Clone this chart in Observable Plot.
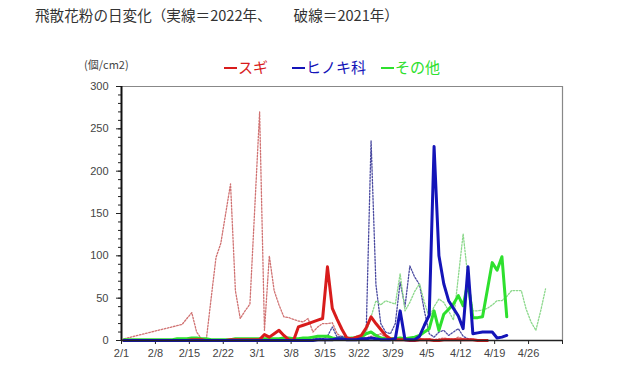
<!DOCTYPE html>
<html><head><meta charset="utf-8">
<script src="https://cdn.jsdelivr.net/npm/d3@7"></script>
<script src="https://cdn.jsdelivr.net/npm/@observablehq/plot@0.6"></script>
<style>
body{margin:0;background:#fff;}
#wrap{position:relative;width:640px;height:380px;overflow:hidden;font-family:"Noto Sans CJK JP","Noto Sans",sans-serif;}
#wrap svg{position:absolute;left:0;top:0;}
.t{position:absolute;white-space:nowrap;line-height:1;}
.dash{display:inline-block;width:13px;height:2px;vertical-align:middle;margin-right:1px;position:relative;top:-1px;}
</style></head><body>
<div id="wrap"></div>
<script>
// ---- text ----
const titleText = "飛散花粉の日変化（実線＝2022年、　　破線＝2021年）";
const unitText = "(個/cm2)";
const seriesNames = ["スギ", "ヒノキ科", "その他"];
const colors2022 = ["#d81c1c", "#1414b8", "#2ee02e"];
const colors2021 = ["#d07272", "#4a4aa0", "#8cd88c"];

// ---- axes ----
const xTickDays = [0, 7, 14, 21, 28, 35, 42, 49, 56, 63, 70, 77, 84, 91];
const xTickLabels = ["2/1","2/8","2/15","2/22","3/1","3/8","3/15","3/22","3/29","4/5","4/12","4/19","4/26",""];
const yTicks = [0, 50, 100, 150, 200, 250, 300];

// ---- data: daily values, index 0 = 2/1 (null = no data) ----
const sugi2022 = [
  0,0,0,0,0,0,0,0,0,0,
  0,0,0,0,1,1,1,0,0,0,
  0,0,1,1,1,1,1,1,1,
  7,4,8,12,6,1,0,
  16,18,20,22,24,26,87,38,25,13,3,
  2,4,6,15,28,20,13,6,2,1,
  1,1,0,0,1,1,1,0,0,1,1,1,1,1,1,1,0,0,0
];
const hinoki2022 = [
  0,0,0,0,0,0,0,0,0,0, 0,0,0,0,0,0,0,0,0,0,
  0,0,0,0,0,0,0,0,0,0, 0,0,0,0,0,0,0,0,0,0,
  1,1,1,1,2,2,1,1,1,2,
  2,3,2,1,1,1,2,
  35,1,1,1,5,18,30,
  229,100,67,47,38,29,14,87,8,9,10,10,10,3,4,6
];
const other2022 = [
  1,1,1,1,1,1,1,1,1,1,
  1,2,2,2,3,3,2,2,1,1,
  1,1,1,2,2,2,2,2,2,2,
  2,2,2,3,3,2,2,3,3,4,
  5,5,5,3,2,2,2,3,3,
  4,8,10,6,3,2,2,2,3,2,3,4,6,10,14,
  35,12,31,37,43,53,41,69,27,27,28,60,92,83,99,28
];
const sugi2021 = [
  2,null,null,null,null,null,null,null,null,null,null,null,
  19,null,33,10,2,1,50,98,115,150,185,59,26,35,43,null,270,
  12,100,59,42,28,27,25,23,22,26,10,16,20,20,21,8,4,3,2,
  5,4,3,5,6,8,4,2,2,1,2,1,2,3,1,2,1,2,3,2,1,4,2,1,1,1,0,1
];
const hinoki2021 = [
  0,0,0,0,0,0,0,0,0,0, 0,0,0,0,0,0,0,0,0,0,
  0,0,0,0,0,0,0,0,0,0, 0,0,0,0,0,0,0,0,
  1,2,3,2,5,16,4,5,4,3,4,6,12,
  236,66,20,10,8,20,69,40,88,75,66,35,8,
  4,10,12,6,10,14,5,2,1,1,0,1
];
const other2021 = [
  1,1,1,1,1,1,1,1,1,1, 1,2,2,2,2,2,2,1,1,1,
  1,1,1,1,1,1,1,1,1,1, 1,1,1,1,1,1,1,1,1,1,
  1,1,1,1,1,1,1,1,
  5,6,10,28,47,42,47,45,43,79,35,45,
  58,67,45,27,40,49,45,35,24,75,126,73,
  35,35,36,38,42,47,47,52,59,59,59,37,22,12,35,61
];

const toPts = arr => arr.map((v, i) => ({x: i + 0.5, y: v})).filter(d => d.y != null);
const s2022 = [sugi2022, hinoki2022, other2022].map(toPts);
const s2021 = [sugi2021, hinoki2021, other2021].map(toPts);
const labelOf = new Map(xTickDays.map((d, i) => [d, xTickLabels[i]]));

const plot = Plot.plot({
  width: 640, height: 380,
  marginLeft: 121, marginRight: 78, marginTop: 86, marginBottom: 40,
  x: {domain: [0, 91], axis: null},
  y: {domain: [0, 300], axis: null},
  style: {fontFamily: "'Liberation Sans', Arial, sans-serif", fontSize: "11px", color: "#333", background: "white"},
  marks: [
    Plot.ruleY([300], {stroke: "#888", strokeWidth: 1.2}),
    Plot.ruleX([91], {stroke: "#888", strokeWidth: 1.2}),
    Plot.axisY({ticks: d3.range(0, 301, 10), tickSize: 3, tickFormat: () => "", stroke: "#222", label: null}),
    Plot.axisY({ticks: yTicks, tickSize: 5, tickPadding: 8, fontSize: 11, fill: "#444", stroke: "#222", label: null}),
    Plot.axisX({ticks: xTickDays, tickSize: 4, tickPadding: 5, fontSize: 11, fill: "#444", stroke: "#222", label: null,
      tickFormat: d => labelOf.get(d) ?? ""}),
    ...s2021.map((pts, i) => Plot.line(pts, {x: "x", y: "y", stroke: colors2021[i], strokeWidth: 1.3, strokeDasharray: "1.6,1.6"})),
    Plot.line(s2022[2], {x: "x", y: "y", stroke: colors2022[2], strokeWidth: 3}),
    Plot.line(s2022[0], {x: "x", y: "y", stroke: colors2022[0], strokeWidth: 3}),
    Plot.line(s2022[1], {x: "x", y: "y", stroke: colors2022[1], strokeWidth: 3}),
    Plot.ruleY([0], {stroke: "#222", strokeWidth: 1.5}),
    Plot.ruleX([0], {stroke: "#111", strokeWidth: 2})
  ]
});

const wrap = document.getElementById("wrap");
wrap.appendChild(plot);
function addText(txt, left, top, size, color, dash) {
  const d = document.createElement("div");
  d.className = "t";
  if (dash) {
    const s = document.createElement("span");
    s.className = "dash";
    s.style.background = color;
    d.appendChild(s);
  }
  d.appendChild(document.createTextNode(txt));
  d.style.left = left + "px"; d.style.top = top + "px";
  d.style.fontSize = size + "px"; d.style.color = color;
  wrap.appendChild(d);
}
addText(titleText, 35, 8, 14.6, "#333");
addText(unitText, 84, 59, 11, "#444");
const legendX = [224, 292, 381];
seriesNames.forEach((n, i) => addText(n, legendX[i], 59, 15, colors2022[i], true));
</script>
</body></html>
